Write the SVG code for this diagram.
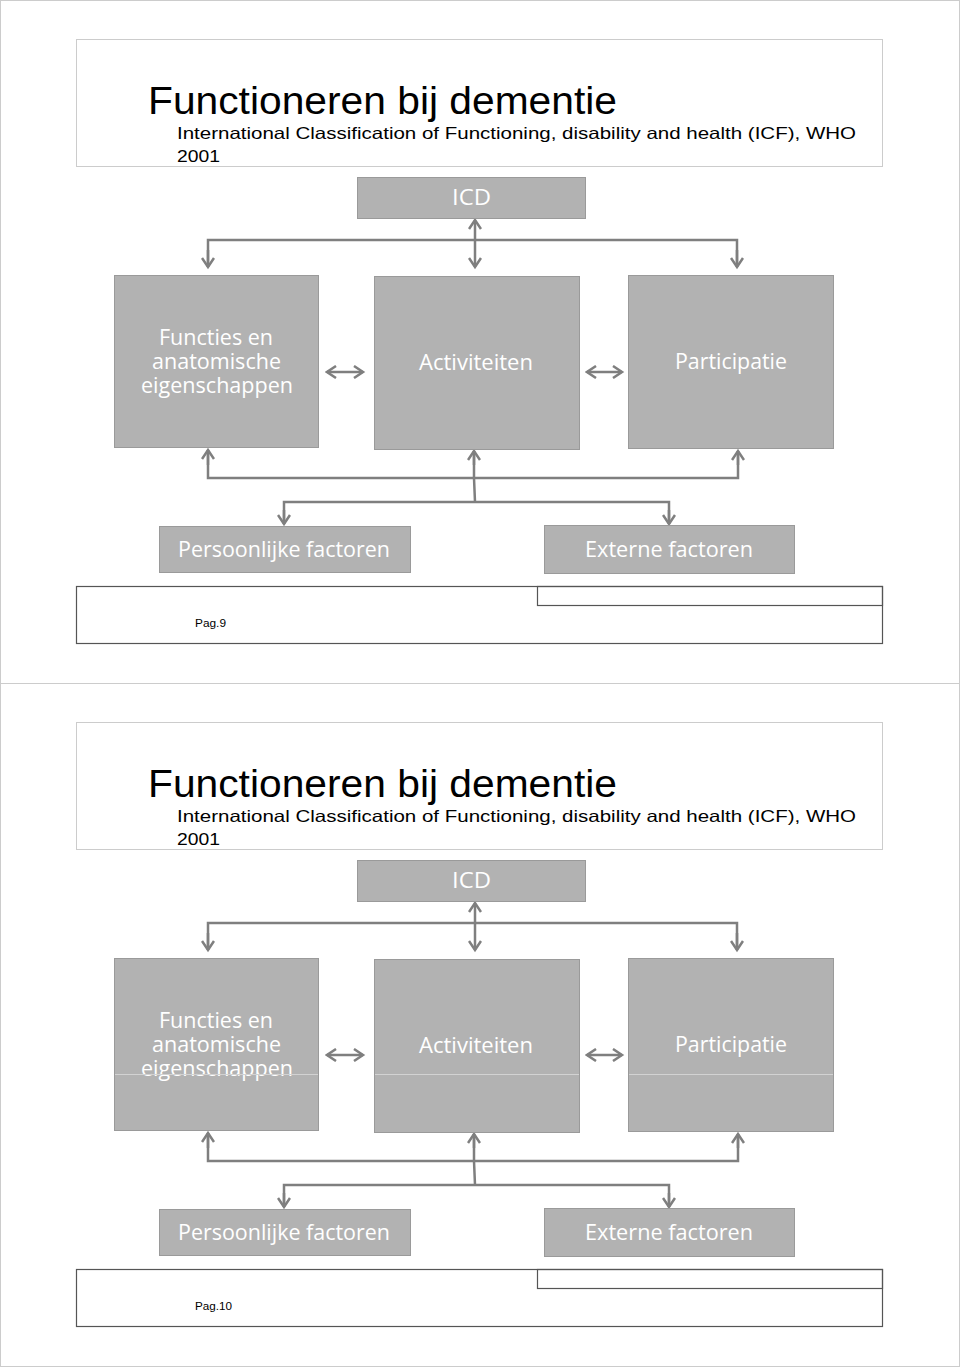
<svg xmlns="http://www.w3.org/2000/svg" width="960" height="1367" viewBox="0 0 960 1367">
<defs>
<style>
.page{fill:#ffffff;stroke:#cccccc;stroke-width:1}
.tbox{fill:#ffffff;stroke:#cccccc;stroke-width:1}
.fbox{fill:none;stroke:#555555;stroke-width:1.2}
.node{fill:#b2b2b2;stroke:#9a9a9a;stroke-width:1}
.nt{fill:#ffffff;font-family:"Open Sans","DejaVu Sans",sans-serif;font-size:21px;text-anchor:middle}
.title{fill:#000000;font-family:"Liberation Sans",Arial,sans-serif;font-size:38px}
.sub{fill:#000000;font-family:"Liberation Sans",Arial,sans-serif;font-size:16.5px}
.pag{fill:#000000;font-family:"Liberation Sans",Arial,sans-serif;font-size:11.5px}
.c{fill:none;stroke:#7f7f7f;stroke-width:2.5}
.a{marker-end:url(#ah)}
.b{marker-start:url(#ah);marker-end:url(#ah)}
.art{stroke:#d2d2d2;stroke-width:1}
</style>
<marker id="ah" markerUnits="userSpaceOnUse" markerWidth="14" markerHeight="14" viewBox="-11 -7 13 14" refX="0" refY="0" orient="auto-start-reverse">
<path d="M-9,-6 L0,0 L-9,6" fill="none" stroke="#7f7f7f" stroke-width="2.5"/>
</marker>
</defs>
<rect x="0.5" y="0.5" width="959" height="1366" class="page"/>
<line x1="0" y1="683.5" x2="960" y2="683.5" stroke="#cccccc" stroke-width="1"/>

<!-- Page 1 -->
<g id="page1">
<g id="p1-header">
<rect x="76.5" y="39.5" width="806" height="127" class="tbox"/>
<text x="148" y="114" class="title" textLength="469" lengthAdjust="spacingAndGlyphs">Functioneren bij dementie</text>
<text x="177" y="139" class="sub" textLength="679" lengthAdjust="spacingAndGlyphs">International Classification of Functioning, disability and health (ICF), WHO</text>
<text x="177" y="162" class="sub" textLength="43" lengthAdjust="spacingAndGlyphs">2001</text>
</g>
<g id="p1-connectors">
<line x1="475" y1="220" x2="475" y2="267" class="c b"/>
<polyline points="208,267 208,240 737,240 737,267" class="c"/>
<line x1="208" y1="250" x2="208" y2="267" class="c a"/>
<line x1="737" y1="250" x2="737" y2="267" class="c a"/>
<line x1="327" y1="372" x2="363" y2="372" class="c b"/>
<line x1="587" y1="372" x2="622" y2="372" class="c b"/>
<polyline points="208,450 208,478 738,478 738,451" class="c"/>
<line x1="208" y1="465" x2="208" y2="450" class="c a"/>
<line x1="738" y1="465" x2="738" y2="451" class="c a"/>
<polyline points="475,502 474,478 474,451" class="c"/>
<line x1="474" y1="465" x2="474" y2="451" class="c a"/>
<polyline points="284,524 284,502 669,502 669,524" class="c"/>
<line x1="284" y1="510" x2="284" y2="524" class="c a"/>
<line x1="669" y1="510" x2="669" y2="524" class="c a"/>
</g>
<g id="p1-icd">
<rect x="357.5" y="177.5" width="228" height="41" class="node"/>
<text x="471.5" y="205" class="nt" textLength="39" lengthAdjust="spacingAndGlyphs">ICD</text>
</g>
<g id="p1-functies">
<rect x="114.5" y="275.5" width="204" height="172" class="node"/>
<text x="216" y="345" class="nt" textLength="114" lengthAdjust="spacingAndGlyphs">Functies en</text>
<text x="216.5" y="369" class="nt" textLength="129" lengthAdjust="spacingAndGlyphs">anatomische</text>
<text x="217" y="393" class="nt" textLength="152" lengthAdjust="spacingAndGlyphs">eigenschappen</text>
</g>
<g id="p1-activiteiten">
<rect x="374.5" y="276.5" width="205" height="173" class="node"/>
<text x="476" y="370" class="nt" textLength="114" lengthAdjust="spacingAndGlyphs">Activiteiten</text>
</g>
<g id="p1-participatie">
<rect x="628.5" y="275.5" width="205" height="173" class="node"/>
<text x="731" y="369" class="nt" textLength="112" lengthAdjust="spacingAndGlyphs">Participatie</text>
</g>
<g id="p1-persoonlijke">
<rect x="159.5" y="526.5" width="251" height="46" class="node"/>
<text x="284" y="557" class="nt" textLength="212" lengthAdjust="spacingAndGlyphs">Persoonlijke factoren</text>
</g>
<g id="p1-externe">
<rect x="544.5" y="525.5" width="250" height="48" class="node"/>
<text x="669" y="557" class="nt" textLength="168" lengthAdjust="spacingAndGlyphs">Externe factoren</text>
</g>
<g id="p1-footer">
<rect x="76.5" y="586.5" width="806" height="57" class="fbox"/>
<rect x="537.5" y="586.5" width="345" height="19" class="fbox"/>
<text x="195" y="627" class="pag" textLength="31" lengthAdjust="spacingAndGlyphs">Pag.9</text>
</g>
</g>

<!-- Page 2 -->
<g id="page2" transform="translate(0,683)">
<g id="p2-header">
<rect x="76.5" y="39.5" width="806" height="127" class="tbox"/>
<text x="148" y="114" class="title" textLength="469" lengthAdjust="spacingAndGlyphs">Functioneren bij dementie</text>
<text x="177" y="139" class="sub" textLength="679" lengthAdjust="spacingAndGlyphs">International Classification of Functioning, disability and health (ICF), WHO</text>
<text x="177" y="162" class="sub" textLength="43" lengthAdjust="spacingAndGlyphs">2001</text>
</g>
<g id="p2-connectors">
<line x1="475" y1="220" x2="475" y2="267" class="c b"/>
<polyline points="208,267 208,240 737,240 737,267" class="c"/>
<line x1="208" y1="250" x2="208" y2="267" class="c a"/>
<line x1="737" y1="250" x2="737" y2="267" class="c a"/>
<line x1="327" y1="372" x2="363" y2="372" class="c b"/>
<line x1="587" y1="372" x2="622" y2="372" class="c b"/>
<polyline points="208,450 208,478 738,478 738,451" class="c"/>
<line x1="208" y1="465" x2="208" y2="450" class="c a"/>
<line x1="738" y1="465" x2="738" y2="451" class="c a"/>
<polyline points="475,502 474,478 474,451" class="c"/>
<line x1="474" y1="465" x2="474" y2="451" class="c a"/>
<polyline points="284,524 284,502 669,502 669,524" class="c"/>
<line x1="284" y1="510" x2="284" y2="524" class="c a"/>
<line x1="669" y1="510" x2="669" y2="524" class="c a"/>
</g>
<g id="p2-icd">
<rect x="357.5" y="177.5" width="228" height="41" class="node"/>
<text x="471.5" y="205" class="nt" textLength="39" lengthAdjust="spacingAndGlyphs">ICD</text>
</g>
<g id="p2-functies">
<rect x="114.5" y="275.5" width="204" height="172" class="node"/>
<text x="216" y="345" class="nt" textLength="114" lengthAdjust="spacingAndGlyphs">Functies en</text>
<text x="216.5" y="369" class="nt" textLength="129" lengthAdjust="spacingAndGlyphs">anatomische</text>
<text x="217" y="393" class="nt" textLength="152" lengthAdjust="spacingAndGlyphs">eigenschappen</text>
<line x1="115" y1="391.5" x2="318" y2="391.5" class="art"/>
</g>
<g id="p2-activiteiten">
<rect x="374.5" y="276.5" width="205" height="173" class="node"/>
<text x="476" y="370" class="nt" textLength="114" lengthAdjust="spacingAndGlyphs">Activiteiten</text>
<line x1="375" y1="391.5" x2="579" y2="391.5" class="art"/>
</g>
<g id="p2-participatie">
<rect x="628.5" y="275.5" width="205" height="173" class="node"/>
<text x="731" y="369" class="nt" textLength="112" lengthAdjust="spacingAndGlyphs">Participatie</text>
<line x1="629" y1="391.5" x2="833" y2="391.5" class="art"/>
</g>
<g id="p2-persoonlijke">
<rect x="159.5" y="526.5" width="251" height="46" class="node"/>
<text x="284" y="557" class="nt" textLength="212" lengthAdjust="spacingAndGlyphs">Persoonlijke factoren</text>
</g>
<g id="p2-externe">
<rect x="544.5" y="525.5" width="250" height="48" class="node"/>
<text x="669" y="557" class="nt" textLength="168" lengthAdjust="spacingAndGlyphs">Externe factoren</text>
</g>
<g id="p2-footer">
<rect x="76.5" y="586.5" width="806" height="57" class="fbox"/>
<rect x="537.5" y="586.5" width="345" height="19" class="fbox"/>
<text x="195" y="627" class="pag" textLength="37" lengthAdjust="spacingAndGlyphs">Pag.10</text>
</g>
</g>
</svg>
